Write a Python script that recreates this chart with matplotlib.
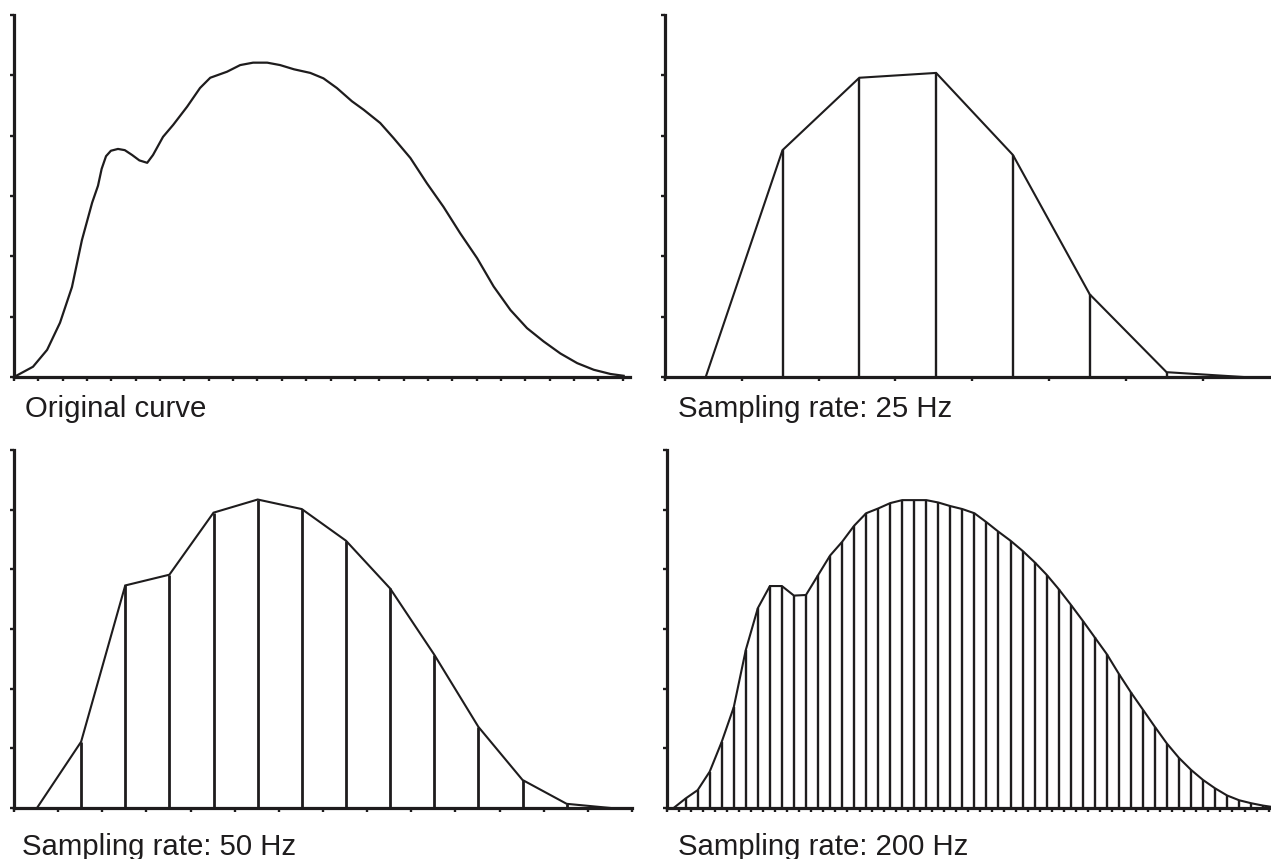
import numpy as np
import matplotlib
matplotlib.use("Agg")
import matplotlib.pyplot as plt

plt.rcParams['font.family'] = ['Liberation Sans', 'DejaVu Sans']

INK = '#1e1c1d'

# original curve (time in ms, amplitude in tick units)
orig_t = [0, 7.8, 13.6, 18.9, 23.8, 27.9, 32.1, 34.5, 36.0, 37.8, 39.8, 42.7, 45.5, 48.5, 51.5,
          54.7, 57.1, 61.2, 65.4, 71.1, 76.4, 80.6, 87.5, 92.9, 98.2, 104.0, 109.3,
          115.0, 121.7, 127.1, 132.6, 138.8, 143.6, 150.4, 155.9, 162.8, 169.6, 176.4,
          183.3, 190.2, 197.0, 203.9, 210.7, 217.5, 224.4, 231.3, 238.1, 245.0, 250.4]
orig_v = [0, 0.17, 0.45, 0.90, 1.49, 2.27, 2.89, 3.17, 3.45, 3.66, 3.75, 3.78, 3.76, 3.68, 3.59,
          3.55, 3.68, 3.98, 4.18, 4.48, 4.79, 4.96, 5.06, 5.17, 5.21, 5.21, 5.17,
          5.10, 5.04, 4.95, 4.79, 4.57, 4.43, 4.21, 3.96, 3.63, 3.21, 2.82,
          2.38, 1.97, 1.50, 1.11, 0.81, 0.59, 0.39, 0.23, 0.12, 0.05, 0.02]

# 25 Hz samples
s25_v = [0, 3.76, 4.96, 5.04, 3.68, 1.37, 0.08, 0]

# 50 Hz samples
s50_v = [0, 1.11, 3.73, 3.91, 4.95, 5.17, 5.01, 4.48, 3.68, 2.57, 1.36, 0.47, 0.07, 0]

# 200 Hz samples
s200_v = [0, 0.16, 0.30, 0.61, 1.11, 1.69, 2.65, 3.35, 3.72, 3.72, 3.56, 3.57,
          3.90, 4.23, 4.46, 4.73, 4.94, 5.02, 5.11, 5.16, 5.16, 5.16, 5.12, 5.06,
          5.01, 4.94, 4.79, 4.63, 4.48, 4.31, 4.12, 3.91, 3.67, 3.41, 3.14, 2.86,
          2.58, 2.25, 1.94, 1.65, 1.36, 1.08, 0.84, 0.64, 0.47, 0.33, 0.21, 0.13,
          0.08, 0.04, 0.01]

labels = ['Original curve', 'Sampling rate: 25 Hz',
          'Sampling rate: 50 Hz', 'Sampling rate: 200 Hz']

W, H = 1271, 859
fig = plt.figure(figsize=(W / 100, H / 100), dpi=100)


def make_ax(x0, y0, w, h, xmax, step):
    ax = fig.add_axes([x0 / W, (H - y0) / H, w / W, h / H])
    ax.set_xlim(0, xmax)
    ax.set_ylim(0, 6)
    ax.set_xticks(np.arange(0, xmax + 0.01, step))
    ax.set_yticks(np.arange(0, 7))
    ax.set_xticklabels([])
    ax.set_yticklabels([])
    for s in ['top', 'right']:
        ax.spines[s].set_visible(False)
    for s in ['left', 'bottom']:
        ax.spines[s].set_linewidth(2.3)
        ax.spines[s].set_color(INK)
    ax.tick_params(direction='out', length=3, width=1.7, color=INK)
    return ax


def sampled(ax, period, phase, vals, lw_v):
    t = np.arange(len(vals)) * period + phase
    v = np.array(vals)
    ax.plot(t, v, color=INK, lw=1.5, solid_joinstyle='miter')
    m = v > 0
    ax.vlines(t[m], 0, v[m], color=INK, lw=lw_v)


ax1 = make_ax(14, 377, 616, 362, 253, 10)
ax1.plot(orig_t, orig_v, color=INK, lw=1.6)

ax2 = make_ax(665, 377, 606, 362, 315.6, 40)
sampled(ax2, 40, 21.2, s25_v, 1.7)

ax3 = make_ax(14, 808, 618, 358, 280, 20)
sampled(ax3, 20, 10.4, s50_v, 2.0)

ax4 = make_ax(667, 808, 604, 358, 251, 5)
sampled(ax4, 5, 2.75, s200_v, 1.7)

fs = 21.2
fig.text(25 / W, 1 - 409 / H, labels[0], fontsize=fs, color=INK, va='center')
fig.text(678 / W, 1 - 409 / H, labels[1], fontsize=fs, color=INK, va='center')
fig.text(22 / W, 1 - 847 / H, labels[2], fontsize=fs, color=INK, va='center')
fig.text(678 / W, 1 - 847 / H, labels[3], fontsize=fs, color=INK, va='center')

fig.savefig('out.png', dpi=100, facecolor='white')
